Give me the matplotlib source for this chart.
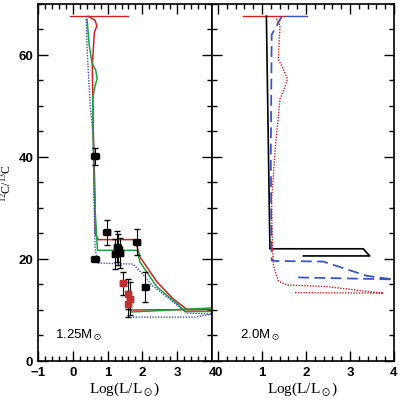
import matplotlib.pyplot as plt
from matplotlib.ticker import MultipleLocator

plt.rcParams['mathtext.fontset'] = 'stix'

# ---- 1.25 Msun panel: model tracks (log L, 12C/13C) ----
red_125_top = ([-0.08, 1.59], [67.6, 67.6])
red_125 = ([0.44, 0.64, 0.69, 0.62, 0.56, 0.59, 0.64, 0.64, 0.73, 1.79, 1.93, 2.42, 2.88, 3.28, 4.0, 4.0, 1.64],
           [67.6, 66.8, 65.7, 64.4, 57.9, 44.8, 31.8, 25.0, 23.8, 23.8, 20.4, 15.5, 12.2, 10.1, 10.1, 10.1, 10.0])
green_125 = ([0.41, 0.47, 0.55, 0.66, 0.70, 0.64, 0.57, 0.59, 0.62, 0.69, 0.71, 1.85, 1.93, 2.42, 3.0, 3.22, 4.0, 4.0, 1.66],
             [67.0, 62.0, 58.5, 57.0, 55.3, 54.0, 51.4, 41.6, 31.8, 24.0, 21.7, 21.7, 19.4, 14.5, 11.2, 9.7, 9.7, 10.4, 9.6])
blue_125 = ([0.38, 0.42, 0.50, 0.59, 0.61, 0.64, 0.73, 1.73, 1.93, 2.30, 2.88, 3.28, 4.0, 3.5, 1.70],
            [67.6, 60.0, 50.0, 44.0, 31.8, 22.0, 19.2, 19.0, 17.6, 14.7, 11.6, 9.4, 9.2, 8.6, 8.6])

# ---- observations (black and red) ----
obs_x = [0.64, 0.64, 0.97, 1.22, 1.30, 1.35, 1.28, 1.84, 2.08]
obs_y = [40.1, 20.0, 25.2, 21.0, 21.9, 21.2, 22.4, 23.3, 14.5]
obs_yerr = [1.7, 0.4, 2.4, 3.0, 3.0, 3.0, 3.0, 2.5, 3.0]
obs_xerr = [0.12, 0.12, 0.1, 0.1, 0.1, 0.1, 0.1, 0.1, 0.1]
red_obs_x = [1.45, 1.60, 1.64, 1.60]
red_obs_y = [15.2, 13.1, 12.2, 11.2]
red_obs_yerr = [2.3, 3.0, 3.2, 2.6]

# ---- 2.0 Msun panel ----
red_20_top = ([0.57, 2.02], [67.6, 67.6])
black_20 = ([1.10, 1.18, 3.30, 3.45, 1.94], [67.6, 22.0, 22.0, 20.6, 20.6])
blue_20 = ([1.55, 2.0], [67.6, 67.6])
blue_20_track = ([1.45, 1.35, 1.22, 1.20, 1.22, 1.33, 2.39, 3.38, 3.98, 1.75],
                 [67.6, 66.0, 64.0, 40.0, 19.7, 19.6, 19.5, 16.7, 16.0, 16.4])
red_20 = ([1.33, 1.41, 1.37, 1.48, 1.58, 1.52, 1.41, 1.30, 1.22, 1.22, 1.24, 1.26, 1.37, 1.56, 2.47, 3.23, 3.76, 1.75],
          [67.1, 65.7, 59.2, 57.3, 55.3, 53.7, 51.4, 41.6, 31.8, 28.5, 22.0, 18.7, 15.7, 14.9, 14.6, 13.8, 13.3, 13.4])

RED = '#d42020'
GREEN = '#1fa040'
BLUE = '#3a55c8'

fig = plt.figure(figsize=(4.0, 4.06), dpi=100)
ax1 = fig.add_axes([0.095, 0.1084, 0.435, 0.8793])
ax2 = fig.add_axes([0.53, 0.1084, 0.455, 0.8793])

ax1.plot(*red_125_top, color=RED, lw=1.0)
ax1.plot(*red_125, color=RED, lw=1.1)
ax1.plot(*green_125, color=GREEN, lw=1.1)
ax1.plot(*blue_125, color=BLUE, lw=1.0, ls=(0, (1, 1)))

ax1.errorbar(obs_x, obs_y, yerr=obs_yerr, xerr=obs_xerr, fmt='s', color='black',
             ms=4, capsize=2, elinewidth=0.8, lw=0)
ax1.errorbar(red_obs_x, red_obs_y, yerr=red_obs_yerr, xerr=0.08, fmt='s', color='#c03030',
             ecolor='black', ms=4, capsize=2, elinewidth=0.8, lw=0)

ax2.plot(*red_20_top, color=RED, lw=1.0)
ax2.plot(*blue_20, color=BLUE, lw=0.8)
ax2.plot(*black_20, color='black', lw=1.2)
ax2.plot(*blue_20_track, color=BLUE, lw=1.3, ls=(0, (6, 3)))
ax2.plot(*red_20, color=RED, lw=1.0, ls=(0, (1, 1)))

ax1.set_xlim(-1, 4)
ax2.set_xlim(-0.136, 4)
for ax in (ax1, ax2):
    ax.set_ylim(0, 70)
    ax.xaxis.set_major_locator(MultipleLocator(1))
    ax.xaxis.set_minor_locator(MultipleLocator(0.2))
    ax.yaxis.set_major_locator(MultipleLocator(20))
    ax.yaxis.set_minor_locator(MultipleLocator(5))
    ax.tick_params(which='both', direction='in', top=True, right=True, width=1.0)
    ax.tick_params(which='major', length=7)
    ax.tick_params(which='minor', length=3.5)
    for s in ax.spines.values():
        s.set_linewidth(1.2)
    ax.set_xlabel(r'Log(L/L$_\odot$)', family='Liberation Serif', fontsize=11, labelpad=1)

ax1.set_xticks([-1, 0, 1, 2, 3, 4])
ax1.set_xticklabels(['\u22121', '0', '1', '2', '3', '4'])
ax2.set_yticklabels([])
for ax in (ax1, ax2):
    for lab in ax.get_xticklabels() + ax.get_yticklabels():
        lab.set_fontfamily('Liberation Sans')
        lab.set_fontweight('bold')
        lab.set_fontsize(9.5)

ax1.text(-0.5, 5.3, r'1.25M$_\odot$', family='Liberation Sans', fontsize=9.5, va='center')
ax2.text(0.5, 5.3, r'2.0M$_\odot$', family='Liberation Sans', fontsize=9.5, va='center')

fig.text(0.016, 0.55, r'$^{12}$C/$^{13}$C', rotation=90, ha='center', va='center',
         family='Liberation Serif', fontsize=8.5)

fig.savefig('out.png', dpi=100)
